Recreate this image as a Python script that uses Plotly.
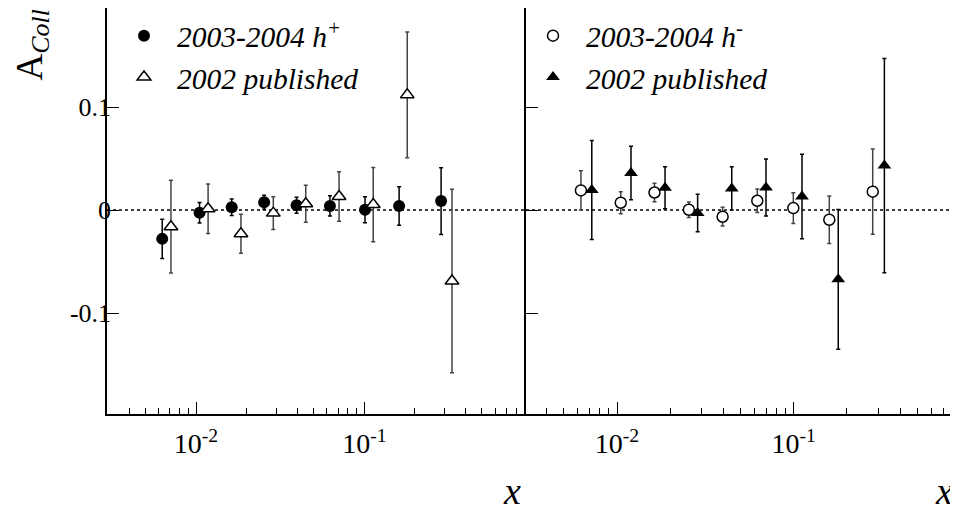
import plotly.graph_objects as go

# ---- data ----
x_hp = [0.0063, 0.0105, 0.0163, 0.0254, 0.0396, 0.0625, 0.101, 0.161, 0.286]
y_hp = [-0.028, -0.0026, 0.0026, 0.0075, 0.0046, 0.0040, 0.0003, 0.0039, 0.0087]
e_hp = [0.019, 0.010, 0.008, 0.0068, 0.0078, 0.0098, 0.0126, 0.0188, 0.0324]

x_p02 = [0.0071, 0.0118, 0.0185, 0.0288, 0.0449, 0.0708, 0.113, 0.180, 0.332]
y_p02 = [-0.0162, 0.0012, -0.023, -0.003, 0.0061, 0.0131, 0.0053, 0.1118, -0.0689]
e_p02 = [0.045, 0.024, 0.019, 0.016, 0.018, 0.024, 0.036, 0.061, 0.089]

x_hm = [0.00625, 0.0105, 0.0163, 0.0255, 0.0396, 0.0622, 0.0995, 0.159, 0.280]
y_hm = [0.019, 0.0071, 0.017, 0.0003, -0.0065, 0.009, 0.0019, -0.0094, 0.0178]
e_hm = [0.019, 0.0107, 0.009, 0.0075, 0.0091, 0.0113, 0.0149, 0.0231, 0.0414]

x_m02 = [0.0072, 0.0120, 0.0187, 0.0286, 0.0446, 0.0697, 0.1114, 0.1787, 0.326]
y_m02 = [0.0194, 0.0359, 0.0217, -0.0029, 0.021, 0.0218, 0.0131, -0.0673, 0.0432]
e_m02 = [0.048, 0.026, 0.0204, 0.0181, 0.021, 0.0277, 0.041, 0.0678, 0.104]

y_tickvals = [-0.1, 0, 0.1]
y_ticktext = ["-0.1", "0", "0.1"]
x_tickvals = [0.01, 0.1]
x_ticktext = ["10<sup>-2</sup>", "10<sup>-1</sup>"]

FONT = "'Liberation Serif', 'Times New Roman', Times, serif"

fig = go.Figure()

def err(vals, color="black"):
    return dict(type="data", array=vals, visible=True, color=color, thickness=1.5, width=2)

fig.add_trace(go.Scatter(
    x=x_hp, y=y_hp, mode="markers", name="2003-2004 h<sup>+</sup>",
    marker=dict(symbol="circle", size=12, color="black"),
    error_y=err(e_hp), xaxis="x", yaxis="y", legend="legend", legendgroup="a"))
fig.add_trace(go.Scatter(
    x=x_p02, y=y_p02, mode="markers", name="2002 published",
    marker=dict(symbol="triangle-up", size=12, color="white", line=dict(color="black", width=1.5)),
    error_y=err(e_p02, "#444"), xaxis="x", yaxis="y", legend="legend", legendgroup="b"))
fig.add_trace(go.Scatter(
    x=x_hm, y=y_hm, mode="markers", name="2003-2004 h<sup>-</sup>",
    marker=dict(symbol="circle", size=11, color="white", line=dict(color="black", width=1.5)),
    error_y=err(e_hm, "#444"), xaxis="x2", yaxis="y2", legend="legend2", legendgroup="c"))
fig.add_trace(go.Scatter(
    x=x_m02, y=y_m02, mode="markers", name="2002 published",
    marker=dict(symbol="triangle-up", size=12, color="black"),
    error_y=err(e_m02), xaxis="x2", yaxis="y2", legend="legend2", legendgroup="d"))

# zero dotted lines
for xr, yr in (("x domain", "y"), ("x2 domain", "y2")):
    fig.add_shape(type="line", xref=xr, yref=yr, x0=0, x1=1, y0=0, y1=0,
                  line=dict(color="black", width=1.5, dash="dot"), layer="below")

xcommon = dict(type="log", showline=True, linecolor="black", linewidth=1.5, mirror=True,
               ticks="inside", ticklen=12, tickwidth=1.2, tickcolor="black",
               tickvals=x_tickvals, ticktext=x_ticktext, showgrid=False, zeroline=False,
               tickfont=dict(family=FONT, size=28, color="black"), ticklabelstandoff=4,
               minor=dict(ticks="inside", ticklen=6, tickwidth=1.2, tickcolor="black",
                          dtick="D1", showgrid=False))
ycommon = dict(range=[-0.198, 0.1961], showline=True, linecolor="black", linewidth=1.5,
               ticks="inside", ticklen=12, tickwidth=1.2, tickcolor="black",
               tickvals=y_tickvals, ticktext=y_ticktext, showgrid=False, zeroline=False,
               tickfont=dict(family=FONT, size=26, color="black"), ticklabelstandoff=-11)

# page body has an 8px margin: figure coords = window coords - 8
W, H = 950, 506
L, B = 99, 100
PW, PH = W - L, H - B
D = 419 / PW
legfont = dict(family=FONT, size=29.5, color="black", style="italic")
fig.update_layout(
    width=W, height=H,
    margin=dict(l=L, r=0, t=0, b=B, autoexpand=False),
    paper_bgcolor="white", plot_bgcolor="white",
    showlegend=True,
    xaxis=dict(domain=[0, D], range=[-2.5288, -0.0392], anchor="y", **xcommon),
    yaxis=dict(domain=[0, 1], anchor="x", mirror=False, **ycommon),
    xaxis2=dict(domain=[D, 1], range=[-2.515, -0.0702], anchor="y2", **xcommon),
    yaxis2=dict(domain=[0, 1], anchor="x2", mirror=False, showticklabels=False, **ycommon),
    legend=dict(x=(111 - 107) / PW, y=1 - 2 / PH, xanchor="left", yanchor="top",
                bgcolor="rgba(0,0,0,0)", font=legfont,
                itemwidth=56, tracegroupgap=10, traceorder="normal"),
    legend2=dict(x=(520 - 107) / PW, y=1 - 2 / PH, xanchor="left", yanchor="top",
                 bgcolor="rgba(0,0,0,0)", font=legfont,
                 itemwidth=56, tracegroupgap=10, traceorder="normal"),
    font=dict(family=FONT, color="black"),
)

fig.add_annotation(text="A<sub><i>Coll</i></sub>", xref="paper", yref="paper",
                   x=(32 - 107) / PW, y=1.0, xanchor="center", yanchor="top",
                   textangle=-90, showarrow=False,
                   font=dict(family=FONT, size=37, color="black"))
fig.add_annotation(text="<i>x</i>", xref="paper", yref="paper",
                   x=(523 - 107) / PW, y=-B / PH, xanchor="right", yanchor="bottom",
                   showarrow=False, font=dict(family=FONT, size=38, color="black"))
fig.add_annotation(text="<i>x</i>", xref="paper", yref="paper",
                   x=(947 - L) / PW, y=-B / PH, xanchor="right", yanchor="bottom",
                   showarrow=False, font=dict(family=FONT, size=38, color="black"))

fig.write_html("out.html")
